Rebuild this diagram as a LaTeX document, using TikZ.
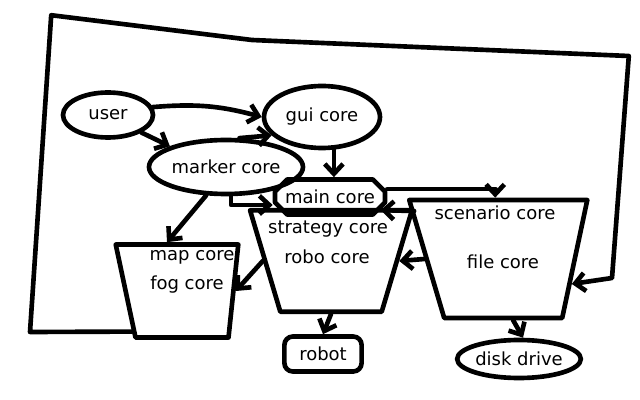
\documentclass[tikz,border=0pt]{standalone}
\usepackage{fontspec}
\setmainfont{DejaVu Sans}
\usetikzlibrary{arrows.meta,positioning,calc,shapes.geometric,shapes.misc}

\begin{document}
\begin{tikzpicture}[
  line width=3.3pt,
  line cap=round,
  line join=round,
  font=\fontsize{12.8}{15}\selectfont,
  blob/.style={draw,ellipse,inner sep=0pt},
  box/.style={
    draw,
    trapezium,
    shape border rotate=180,
    inner sep=2pt
  },
  lbl/.style={inner sep=0pt},
  link/.style={-{Straight Barb[length=7pt,width=13pt]}}
]
\useasboundingbox (0,0) rectangle (16,-10);

% blobs
\node[blob,minimum width=2.25cm,minimum height=1.125cm] (user) at (2.7,-2.875) {user};
\node[blob,minimum width=2.9cm,minimum height=1.55cm] (gui) at (8.05,-2.925) {gui core};
\node[blob,minimum width=3.35cm,minimum height=1.35cm] (marker) at (5.65,-4.175) {marker core};
\node[draw,chamfered rectangle,chamfered rectangle xsep=0.25cm,
  minimum width=2.75cm,minimum height=0.875cm,inner sep=0pt] (main) at (8.25,-4.925) {main core};

% cores (shape turned over: left angle sets the right side)
\node[box,trapezium left angle=73.4,trapezium right angle=73.4,
  minimum width=4.05cm,minimum height=2.0cm] (robo) at (8.275,-6.525) {};
\node[lbl] (strat-t) at (8.2,-5.725) {strategy core};
\node[lbl] (robo-t) at (8.175,-6.425) {robo core};

\node[box,trapezium left angle=78,trapezium right angle=73.5,
  minimum width=4.1cm,minimum height=2.95cm] (scen) at (12.58,-6.475) {};
\node[lbl] (scen-t) at (12.375,-5.325) {scenario core};
\node[lbl] (file-t) at (12.575,-6.55) {file core};

\node[box,trapezium left angle=84,trapezium right angle=78,
  minimum width=3.0cm,minimum height=2.325cm] (map) at (4.55,-7.275) {};
\node[lbl] (map-t) at (4.8,-6.425) {map core};
\node[lbl] (fog-t) at (4.675,-7.125) {fog core};

% outputs
\node[draw,rounded corners=6pt,minimum width=1.93cm,minimum height=0.875cm,
  inner sep=0pt] (robot) at (8.075,-8.85) {robot};
\node[blob,minimum width=3.05cm,minimum height=0.95cm] (disk) at (12.975,-8.975) {disk drive};

% outer loop
\coordinate (lb) at (0.75,-8.3);
\coordinate (lt) at (1.28,-0.38);
\coordinate (tm) at (6.3,-1.0);
\coordinate (rt) at (15.72,-1.4);
\coordinate (rb) at (15.3,-6.95);

\draw[link] (user.10) to[bend left=10] (gui.west);
\draw[link] (user.south east) -- (marker.north west);
\draw[link] (marker.65) -- (gui.200);
\draw[link] (gui.290) -- (gui.290 |- main.north);
\draw[link] (marker.280) |- ([yshift=-0.2cm]main.west);
\draw[link] (marker.235) -- ([xshift=-0.375cm]map.north);
\draw[link] ([yshift=0.2cm]main.east) -| ([xshift=-0.2cm]scen.north);
\draw[link] (robo.31) -- (main.south east);
\draw[link] (scen.west) -- (robo.east);
\draw[link] (robo.west) -- (map.east);
\draw[link] (robo.south) -- (robot.north);
\draw[link] ([xshift=0.25cm]scen.south) -- ([xshift=0.1cm]disk.north);
\draw[link] (map.219) -- (lb) -- (lt) -- (tm) -- (rt) -- (rb) -- (scen.-20);
\end{tikzpicture}
\end{document}
